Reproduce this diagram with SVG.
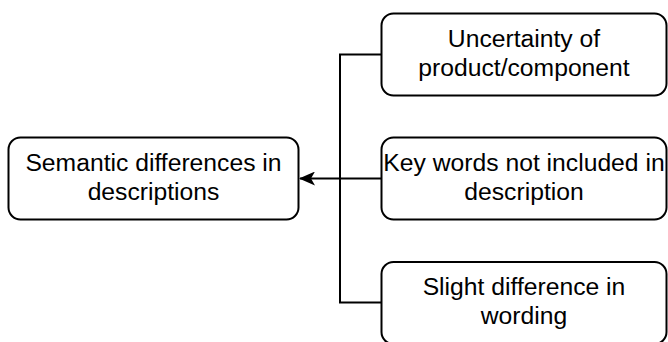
<svg xmlns="http://www.w3.org/2000/svg" width="668" height="342" viewBox="0 0 668 342">
  <defs>
    <style>
      .box { fill: #ffffff; stroke: #000000; stroke-width: 2; }
      .lbl { font-family: "Liberation Sans", Arial, sans-serif; font-size: 24.7px; fill: #000000; text-anchor: middle; }
      .wire { fill: none; stroke: #000000; stroke-width: 2; }
    </style>
    <marker id="arrow" viewBox="0 0 16 14" refX="15" refY="7" markerWidth="16" markerHeight="14" markerUnits="userSpaceOnUse" orient="auto">
      <path d="M0,0 L16,7 L0,14 L4,7 Z" fill="#000000"/>
    </marker>
  </defs>

  <g id="connectors">
    <path class="wire" d="M381.5,54.5 H340 V302.5 H381.5"/>
    <path class="wire" d="M381.5,178.5 H300" marker-end="url(#arrow)"/>
  </g>

  <g id="semantic-differences">
    <rect class="box" x="8.5" y="137.5" width="290" height="82" rx="12"/>
    <text class="lbl" x="153.5" y="170.5">Semantic differences in</text>
    <text class="lbl" x="153.5" y="199.5">descriptions</text>
  </g>

  <g id="uncertainty">
    <rect class="box" x="381.5" y="13.5" width="285" height="82" rx="12"/>
    <text class="lbl" x="524" y="46.5">Uncertainty of</text>
    <text class="lbl" x="524" y="75.5">product/component</text>
  </g>

  <g id="key-words">
    <rect class="box" x="381.5" y="137.5" width="285" height="82" rx="12"/>
    <text class="lbl" x="524" y="170.5">Key words not included in</text>
    <text class="lbl" x="524" y="199.5">description</text>
  </g>

  <g id="slight-difference">
    <rect class="box" x="381.5" y="262" width="285" height="82" rx="12"/>
    <text class="lbl" x="524" y="295">Slight difference in</text>
    <text class="lbl" x="524" y="324">wording</text>
  </g>
</svg>
